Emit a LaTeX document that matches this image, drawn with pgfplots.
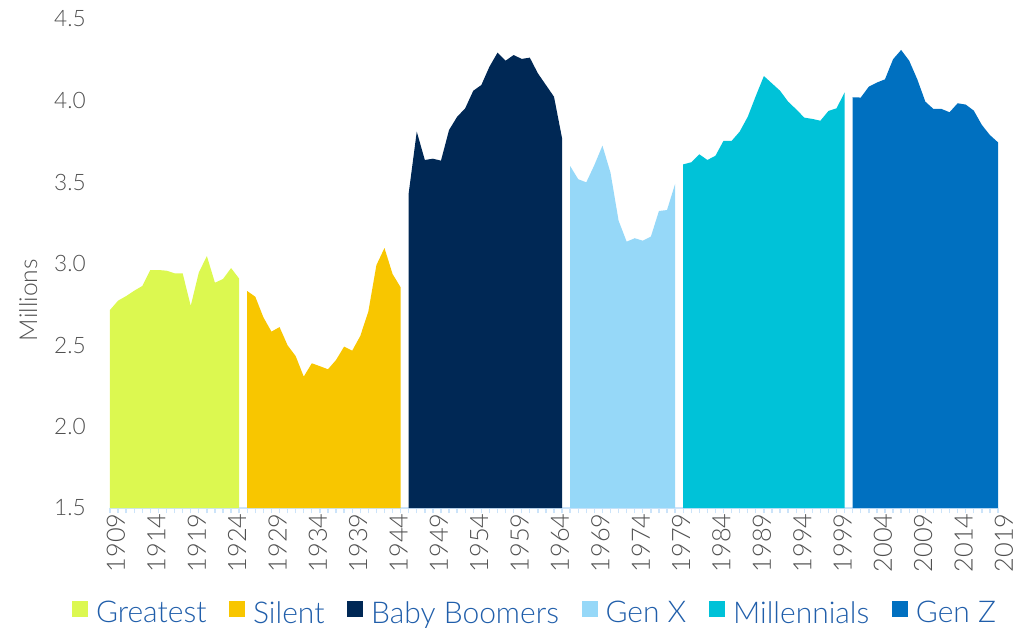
\documentclass[border=0pt]{standalone}
\usepackage{fontspec}
\setmainfont{Lato}[UprightFont=* Light]
\usepackage{pgfplots}
\pgfplotsset{compat=1.18}
\definecolor{greatest}{RGB}{220,248,80}
\definecolor{silent}{RGB}{248,198,0}
\definecolor{boomers}{RGB}{0,40,85}
\definecolor{genx}{RGB}{150,216,248}
\definecolor{millen}{RGB}{0,194,216}
\definecolor{genz}{RGB}{0,112,192}
\definecolor{axisblue}{RGB}{204,228,250}
\definecolor{legtext}{RGB}{32,94,170}
\definecolor{ticktext}{RGB}{80,80,80}

\begin{document}
\begin{tikzpicture}
\useasboundingbox (-82.5pt,-90pt) rectangle (680.25pt,381pt);
\begin{axis}[
    scale only axis, width=666pt, height=366.75pt,
    xmin=1909, xmax=2019, ymin=1.5, ymax=4.5,
    axis x line*=bottom, axis y line*=left,
    x axis line style={draw=axisblue, line width=1.5pt, -},
    y axis line style={draw=none},
    xtick={1909,1914,...,2019}, minor x tick num=4,
    xtick style={draw=axisblue, line width=1pt},
    major tick length=4pt, minor tick length=4pt, tick align=outside,
    ytick={1.5,2,...,4.5}, ytick style={draw=none},
    /pgf/number format/assume math mode=true,
    xticklabel={\pgfmathprintnumber[1000 sep={}]{\tick}},
    yticklabel={\pgfmathprintnumber[fixed, fixed zerofill, precision=1]{\tick}},
    ticklabel style={text=ticktext},
    xticklabel style={rotate=90, anchor=east, inner sep=0pt, yshift=-4.5pt,
        font=\fontsize{19}{22}\selectfont},
    yticklabel style={anchor=east, inner sep=0pt, xshift=-14pt,
        font=\fontsize{17}{20}\selectfont},
    ylabel={Millions},
    ylabel style={at={(axis description cs:-0.092,0.425)}, anchor=center,
        font=\fontsize{18.5}{22}\selectfont, text=ticktext},
    legend columns=6,
    legend image code/.code={\fill[#1] (0pt,-3pt) rectangle (12pt,9pt);},
    legend style={at={(axis description cs:0.479,-0.215)}, anchor=center,
        draw=none, fill=none, font=\fontsize{22.5}{26}\selectfont, text=legtext,
        /tikz/every even column/.append style={column sep=15pt},
        /tikz/every odd column/.append style={column sep=4pt}},
]
\addplot[fill=greatest, draw=none] coordinates {
(1909,2.715)(1910,2.772)(1911,2.80)(1912,2.833)(1913,2.862)(1914,2.96)(1915,2.96)
(1916,2.956)(1917,2.94)(1918,2.94)(1919,2.74)(1920,2.944)(1921,3.046)(1922,2.882)
(1923,2.905)(1924,2.972)(1925,2.907)
} \closedcycle;
\addlegendentry{Greatest}
\addplot[fill=silent, draw=none] coordinates {
(1926,2.831)(1927,2.796)(1928,2.67)(1929,2.582)(1930,2.61)(1931,2.498)(1932,2.432)
(1933,2.306)(1934,2.388)(1935,2.37)(1936,2.351)(1937,2.408)(1938,2.49)(1939,2.465)
(1940,2.555)(1941,2.705)(1942,2.99)(1943,3.095)(1944,2.936)(1945,2.854)
} \closedcycle;
\addlegendentry{Silent}
\addplot[fill=boomers, draw=none] coordinates {
(1946,3.431)(1947,3.809)(1948,3.635)(1949,3.643)(1950,3.631)(1951,3.819)(1952,3.90)
(1953,3.952)(1954,4.06)(1955,4.095)(1956,4.207)(1957,4.293)(1958,4.244)(1959,4.279)
(1960,4.255)(1961,4.263)(1962,4.167)(1963,4.095)(1964,4.023)(1965,3.768)
} \closedcycle;
\addlegendentry{Baby Boomers}
\addplot[fill=genx, draw=none] coordinates {
(1966,3.598)(1967,3.517)(1968,3.498)(1969,3.604)(1970,3.723)(1971,3.557)(1972,3.263)
(1973,3.134)(1974,3.155)(1975,3.14)(1976,3.165)(1977,3.322)(1978,3.328)(1979,3.488)
} \closedcycle;
\addlegendentry{Gen X}
\addplot[fill=millen, draw=none] coordinates {
(1980,3.608)(1981,3.621)(1982,3.67)(1983,3.635)(1984,3.661)(1985,3.753)(1986,3.752)
(1987,3.809)(1988,3.90)(1989,4.028)(1990,4.15)(1991,4.105)(1992,4.06)(1993,3.993)
(1994,3.946)(1995,3.895)(1996,3.887)(1997,3.876)(1998,3.936)(1999,3.952)(2000,4.05)
} \closedcycle;
\addlegendentry{Millennials}
\addplot[fill=genz, draw=none] coordinates {
(2001,4.02)(2002,4.018)(2003,4.085)(2004,4.11)(2005,4.13)(2006,4.253)(2007,4.31)
(2008,4.244)(2009,4.13)(2010,3.993)(2011,3.948)(2012,3.948)(2013,3.928)(2014,3.983)
(2015,3.975)(2016,3.938)(2017,3.85)(2018,3.788)(2019,3.743)
} \closedcycle;
\addlegendentry{Gen Z}
\end{axis}
\end{tikzpicture}
\end{document}
